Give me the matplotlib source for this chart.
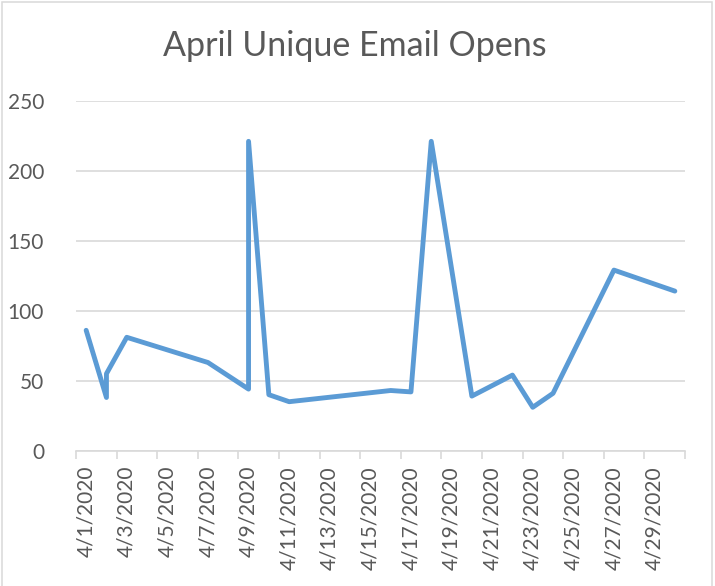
import matplotlib
matplotlib.use("Agg")
import matplotlib.pyplot as plt
import pandas as pd
from matplotlib.patches import Rectangle

# ---- data ----
dates = ["2020-04-01", "2020-04-02", "2020-04-02", "2020-04-03", "2020-04-07",
         "2020-04-09", "2020-04-09", "2020-04-10", "2020-04-11", "2020-04-16",
         "2020-04-17", "2020-04-18", "2020-04-20", "2020-04-22", "2020-04-23",
         "2020-04-24", "2020-04-27", "2020-04-30"]
opens = [86, 38, 55, 81, 63, 44, 221, 40, 35, 43, 42, 221, 39, 54, 31, 41, 129, 114]
tick_dates = ["2020-04-01", "2020-04-03", "2020-04-05", "2020-04-07", "2020-04-09",
              "2020-04-11", "2020-04-13", "2020-04-15", "2020-04-17", "2020-04-19",
              "2020-04-21", "2020-04-23", "2020-04-25", "2020-04-27", "2020-04-29"]
tick_labels = ["4/1/2020", "4/3/2020", "4/5/2020", "4/7/2020", "4/9/2020",
               "4/11/2020", "4/13/2020", "4/15/2020", "4/17/2020", "4/19/2020",
               "4/21/2020", "4/23/2020", "4/25/2020", "4/27/2020", "4/29/2020"]
y_ticks = [0, 50, 100, 150, 200, 250]
title = "April Unique Email Opens"

plt.rcParams['font.family'] = ['Lato', 'DejaVu Sans']
W, H = 715, 586
fig = plt.figure(figsize=(W / 100, H / 100), dpi=100)
fig.patch.set_facecolor("white")

ax = fig.add_axes([76 / W, (H - 450.7) / H, (685 - 76) / W, (450.7 - 100.7) / H])

x = pd.to_datetime(dates)
ax.plot(x, opens, color="#5B9BD5", lw=3.5, solid_joinstyle="round",
        solid_capstyle="round", zorder=3, clip_on=False)

start = pd.Timestamp("2020-04-01") - pd.Timedelta(hours=12)
end = pd.Timestamp("2020-04-30") + pd.Timedelta(hours=12)
ax.set_xlim(start, end)
ax.set_ylim(0, 250)

ax.set_yticks(y_ticks)
ax.set_yticklabels([str(v) for v in y_ticks])
ax.tick_params(axis="y", length=0, pad=23, labelsize=15, labelcolor="#595959")
ax.yaxis.grid(True, color="#D9D9D9", lw=1.2, zorder=0)
ax.set_axisbelow(True)

ax.set_xticks(pd.to_datetime(tick_dates))
ax.set_xticklabels(tick_labels, rotation=90, va="top", ha="center")
ax.tick_params(axis="x", which="major", length=0, pad=11, labelsize=15,
               labelcolor="#595959")
minor = pd.date_range(start, end, freq="2D")
ax.set_xticks(minor, minor=True)
ax.tick_params(axis="x", which="minor", length=6, width=1.2, color="#D9D9D9")

for s in ["top", "right", "left"]:
    ax.spines[s].set_visible(False)
ax.spines["bottom"].set_color("#D9D9D9")
ax.spines["bottom"].set_linewidth(1.2)

fig.text(355 / W, 1 - 46 / H, title, ha="center", va="center",
         fontsize=24.5, color="#595959")

# chart-area border (bottom edge lies outside the picture)
fig.patches.append(Rectangle((1.5 / W, -5 / H), 710 / W, (H + 5 - 1.5) / H,
                             transform=fig.transFigure, fill=False,
                             edgecolor="#D9D9D9", lw=1.1))

fig.savefig("out.png", dpi=100, facecolor="white")
